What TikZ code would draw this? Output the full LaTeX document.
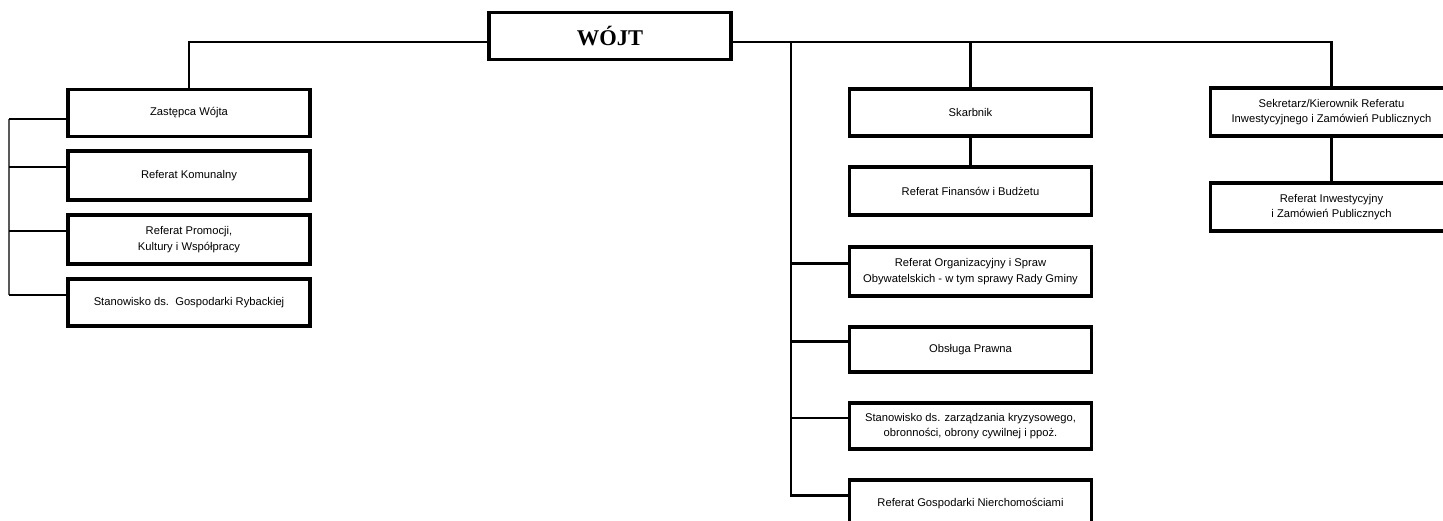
\documentclass[tikz,border=0pt]{standalone}
\usepackage{fontspec}
\setmainfont{Liberation Sans}
\newfontfamily\serifb{Liberation Serif}
\begin{document}
\begin{tikzpicture}[x=1pt,y=-1pt,
  box/.style={draw=black,line width=3.1pt,minimum width=242pt,minimum height=47pt,inner sep=0pt,align=center,
    font=\fontsize{11.2}{15.5}\selectfont},
  conn/.style={draw=black,line width=2.9pt},
  thin/.style={draw=black!65,line width=1.5pt}]
\useasboundingbox (0,0) rectangle (1443,521);
\clip (0,0) rectangle (1443,521);
% nodes
\node[box,minimum height=46.5pt,font=\serifb\bfseries\fontsize{22.5}{24}\selectfont] (wojt) at (610,36) {WÓJT};
\node[box] (zw) at (189,113) {Zastępca Wójta};
\node[box,minimum height=49pt] (kom) at (189,175.5) {Referat Komunalny};
\node[box,minimum height=49pt] (prom) at (189,239.5) {Referat Promocji,\\Kultury i Współpracy};
\node[box] (ryb) at (189,302.5) {Stanowisko ds.\ \ Gospodarki Rybackiej};
\node[box] (skarb) at (970.5,112.5) {Skarbnik};
\node[box,minimum height=48pt] (fin) at (970.5,191) {Referat Finansów i Budżetu};
\node[box,minimum height=49pt] (org) at (970.5,271.5) {Referat Organizacyjny i Spraw\\Obywatelskich - w tym sprawy Rady Gminy};
\node[box,minimum height=45pt] (praw) at (970.5,349.5) {Obsługa Prawna};
\node[box,minimum height=46pt] (kryz) at (970.5,426) {Stanowisko ds. zarządzania kryzysowego,\\obronności, obrony cywilnej i ppoż.};
\node[box] (nier) at (970.5,503.5) {Referat Gospodarki Nierchomościami};
\node[box,minimum height=48pt] (sek) at (1331.5,112) {Sekretarz/Kierownik Referatu\\Inwestycyjnego i Zamówień Publicznych};
\node[box,minimum height=48pt] (inw) at (1331.5,207) {Referat Inwestycyjny\\i Zamówień Publicznych};
% connectors from Wojt
\coordinate (wl) at ([yshift=-6pt]wojt.west);
\coordinate (wr) at ([yshift=-6pt]wojt.east);
\draw[conn] (wl) -| (zw.north);
\draw[conn] (wr) -| (sek.north);
\draw[conn] (skarb.north) -- (skarb.north |- wr);
\draw[conn] (skarb.south) -- (fin.north);
\draw[conn] (sek.south) -- (inw.north);
% central spine
\coordinate (spt) at (791,42);
\coordinate (ob) at ([yshift=8pt]org.west);
\coordinate (pb) at ([yshift=8pt]praw.west);
\coordinate (kb) at ([yshift=8pt]kryz.west);
\coordinate (nb) at ([yshift=8pt]nier.west);
\draw[conn] (spt) |- (nb);
\draw[conn] (ob) -- (ob -| spt);
\draw[conn] (pb) -- (pb -| spt);
\draw[conn] (kb) -- (kb -| spt);
% left spine
\coordinate (zb) at ([yshift=-6pt]zw.west);
\coordinate (kmb) at ([yshift=8.5pt]kom.west);
\coordinate (prb) at ([yshift=8.5pt]prom.west);
\coordinate (rb) at ([yshift=7.5pt]ryb.west);
\coordinate (lsx) at (9,0);
\draw[thin] (zb -| lsx) -- (rb -| lsx);
\draw[conn] (zb) -- (zb -| lsx);
\draw[conn] (kmb) -- (kmb -| lsx);
\draw[conn] (prb) -- (prb -| lsx);
\draw[conn] (rb) -- (rb -| lsx);
\end{tikzpicture}
\end{document}
